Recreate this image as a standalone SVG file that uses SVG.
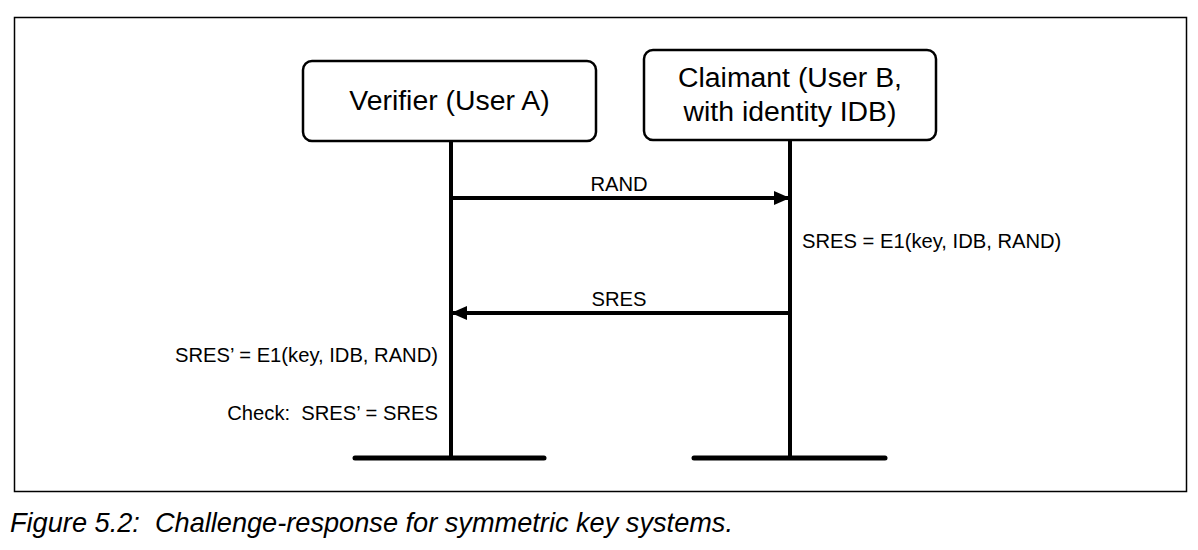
<svg xmlns="http://www.w3.org/2000/svg" width="1198" height="550" viewBox="0 0 1198 550">
<style>
.box{fill:#fff;stroke:#000;stroke-width:2.5}
.life{stroke:#000;stroke-width:4;fill:none}
.bar{stroke:#000;stroke-width:5;stroke-linecap:round}
.msg{stroke:#000;stroke-width:4}
.t{font-family:"Liberation Sans",Arial,sans-serif;fill:#000}
.big{font-size:28.4px}
.sm{font-size:20.2px}
</style>
<defs>
<marker id="ah" markerWidth="16" markerHeight="14" refX="15" refY="7" orient="auto" markerUnits="userSpaceOnUse">
<path d="M0,0 L16,7 L0,14 Z" fill="#000"/>
</marker>
</defs>
<rect width="1198" height="550" fill="#fff"/>
<rect x="14.5" y="17.5" width="1172" height="474" fill="none" stroke="#000" stroke-width="1.5"/>
<g id="verifier">
<rect class="box" x="303" y="61" width="293" height="80" rx="9"/>
<text class="t big" x="449.5" y="110" text-anchor="middle">Verifier (User A)</text>
</g>
<g id="claimant">
<rect class="box" x="644" y="50" width="292" height="90" rx="9"/>
<text class="t big" x="790" y="87" text-anchor="middle">Claimant (User B,</text>
<text class="t big" x="790" y="121" text-anchor="middle">with identity IDB)</text>
</g>
<g id="connectors">
<line class="life" x1="451" y1="141" x2="451" y2="458"/>
<line class="life" x1="790" y1="140" x2="790" y2="458"/>
<line class="bar" x1="355" y1="458" x2="544" y2="458"/>
<line class="bar" x1="694" y1="458" x2="885" y2="458"/>
<line class="msg" x1="451" y1="198" x2="789" y2="198" marker-end="url(#ah)"/>
<line class="msg" x1="790" y1="313" x2="452" y2="313" marker-end="url(#ah)"/>
</g>
<g id="labels">
<text class="t sm" x="619" y="191" text-anchor="middle">RAND</text>
<text class="t sm" x="619" y="306" text-anchor="middle">SRES</text>
<text class="t sm" x="802" y="248">SRES = E1(key, IDB, RAND)</text>
<text class="t sm" x="438" y="362" text-anchor="end">SRES’ = E1(key, IDB, RAND)</text>
<text class="t sm" x="438" y="420" text-anchor="end" xml:space="preserve">Check:  SRES’ = SRES</text>
</g>
<text class="t" x="10" y="532" font-size="28" font-style="italic" textLength="723" lengthAdjust="spacingAndGlyphs" xml:space="preserve">Figure 5.2:  Challenge-response for symmetric key systems.</text>
</svg>
